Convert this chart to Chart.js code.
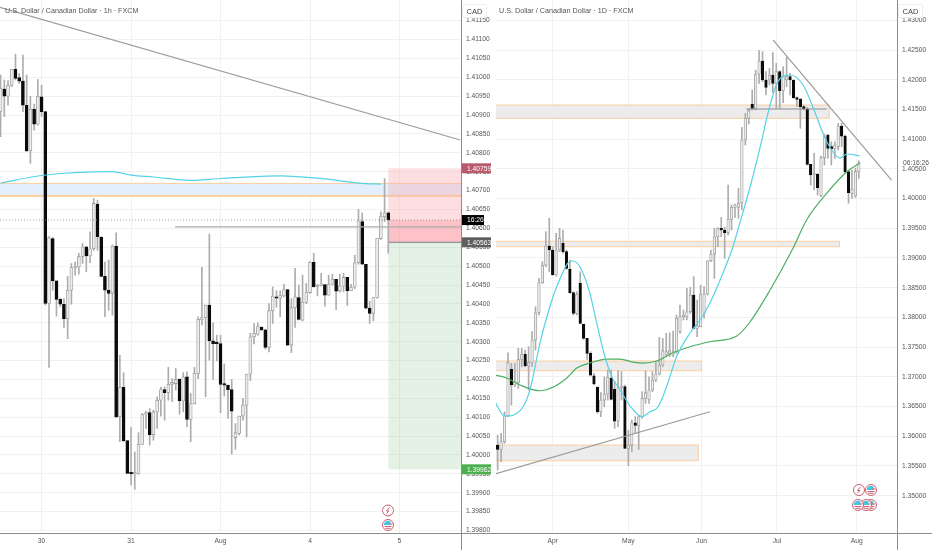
<!DOCTYPE html>
<html>
<head>
<meta charset="utf-8">
<title>USDCAD</title>
<script src="https://cdn.jsdelivr.net/npm/chart.js@4"></script>
<style>
  html, body { margin: 0; padding: 0; background: #fff; overflow: hidden; }
  #page { position: relative; width: 932px; height: 550px; font-family: "Liberation Sans", sans-serif; }
  canvas { position: absolute; top: 0; }
  .title { position: absolute; top: 5.5px; font-size: 7.2px; line-height: 9px; color: #555; white-space: nowrap; }
  .unit { position: absolute; top: 4px; width: 25px; height: 14px; line-height: 14px; text-align: center; font-size: 7.5px;
          color: #444; background: #fff; border: 1px solid #eee; border-radius: 2px; box-sizing: border-box; }
</style>
</head>
<body>
<div id="page">
  <canvas id="hourly" width="496" height="550" style="left:0"></canvas>
  <canvas id="daily" width="436" height="550" style="left:496px"></canvas>
  <div class="title" style="left:5px">U.S. Dollar / Canadian Dollar · 1h · FXCM</div>
  <div class="title" style="left:499px">U.S. Dollar / Canadian Dollar · 1D · FXCM</div>
  <div class="unit" style="left:462px">CAD</div>
  <div class="unit" style="left:898px">CAD</div>
</div>
<script>
// 1h candles, first one is 11 hours before the "30" tick
const hourlyFirst = -11;
const hourlyOpen = [
  1.40909,1.40969,1.40950,1.40979,1.41021,1.40999,1.40990,1.40926,1.40805,1.40915,
  1.40876,1.40948,1.40909,1.40401,1.40573,1.40461,1.40412,1.40399,1.40361,1.40436,
  1.40495,1.40498,1.40525,1.40551,1.40527,1.40546,1.40664,1.40576,1.40473,1.40436,
  1.40428,1.40553,1.40101,1.40179,1.40038,1.39951,1.39950,1.39951,1.40028,1.40108,
  1.40112,1.40054,1.40114,1.40145,1.40173,1.40165,1.40187,1.40189,1.40200,1.40143,
  1.40207,1.40094,1.40136,1.40216,1.40359,1.40364,1.40397,1.40302,1.40297,1.40295,
  1.40187,1.40185,1.40173,1.40046,1.40057,1.40103,1.40132,1.40214,1.40313,1.40320,
  1.40338,1.40331,1.40285,1.40382,1.40419,1.40415,1.40421,1.40438,1.40291,1.40390,
  1.40417,1.40357,1.40404,1.40430,1.40510,1.40445,1.40449,1.40451,1.40423,1.40452,
  1.40465,1.40434,1.40447,1.40470,1.40435,1.40444,1.40509,1.40618,1.40505,1.40389,
  1.40375,1.40417,1.40573,1.40631,1.40641];
const hourlyHigh = [
  1.41006,1.40993,1.40991,1.41021,1.41061,1.41010,1.41059,1.41006,1.40950,1.40929,
  1.40994,1.40979,1.40909,1.40578,1.40576,1.40461,1.40414,1.40414,1.40473,1.40507,
  1.40511,1.40534,1.40560,1.40551,1.40591,1.40679,1.40675,1.40578,1.40511,1.40516,
  1.40556,1.40588,1.40264,1.40218,1.40038,1.40073,1.40008,1.40059,1.40110,1.40116,
  1.40123,1.40119,1.40154,1.40180,1.40180,1.40232,1.40202,1.40229,1.40202,1.40218,
  1.40220,1.40163,1.40232,1.40366,1.40497,1.40397,1.40585,1.40350,1.40317,1.40317,
  1.40241,1.40185,1.40200,1.40083,1.40103,1.40150,1.40214,1.40322,1.40348,1.40350,
  1.40340,1.40333,1.40401,1.40445,1.40435,1.40435,1.40452,1.40438,1.40414,1.40494,
  1.40450,1.40476,1.40454,1.40512,1.40534,1.40452,1.40481,1.40451,1.40476,1.40479,
  1.40465,1.40479,1.40481,1.40470,1.40452,1.40529,1.40650,1.40641,1.40505,1.40407,
  1.40417,1.40573,1.40644,1.40732,1.40644];
const hourlyLow = [
  1.40843,1.40896,1.40926,1.40975,1.40993,1.40984,1.40909,1.40803,1.40772,1.40860,
  1.40873,1.40896,1.40397,1.40232,1.40436,1.40368,1.40392,1.40338,1.40308,1.40399,
  1.40476,1.40479,1.40507,1.40485,1.40509,1.40542,1.40542,1.40472,1.40366,1.40383,
  1.40370,1.40098,1.40035,1.40035,1.39950,1.39920,1.39909,1.39949,1.40028,1.40070,
  1.40026,1.40039,1.40070,1.40103,1.40092,1.40145,1.40141,1.40172,1.40108,1.40114,
  1.40075,1.40035,1.40135,1.40202,1.40344,1.40154,1.40251,1.40200,1.40249,1.40112,
  1.40156,1.40097,1.40002,1.40015,1.40053,1.40092,1.40048,1.40197,1.40294,1.40317,
  1.40329,1.40280,1.40273,1.40348,1.40391,1.40366,1.40419,1.40289,1.40271,1.40338,
  1.40357,1.40355,1.40401,1.40428,1.40445,1.40421,1.40447,1.40394,1.40423,1.40450,
  1.40385,1.40432,1.40432,1.40396,1.40435,1.40440,1.40505,1.40504,1.40387,1.40348,
  1.40355,1.40415,1.40571,1.40618,1.40534];
const hourlyClose = [
  1.40971,1.40950,1.40979,1.41021,1.40997,1.40990,1.40926,1.40805,1.40915,1.40876,
  1.40950,1.40909,1.40401,1.40575,1.40461,1.40412,1.40399,1.40361,1.40436,1.40496,
  1.40498,1.40525,1.40551,1.40527,1.40546,1.40666,1.40578,1.40473,1.40436,1.40428,
  1.40553,1.40101,1.40179,1.40038,1.39951,1.39950,1.39951,1.40028,1.40107,1.40112,
  1.40054,1.40114,1.40145,1.40173,1.40165,1.40187,1.40192,1.40200,1.40143,1.40207,
  1.40094,1.40136,1.40216,1.40359,1.40364,1.40397,1.40302,1.40295,1.40295,1.40187,
  1.40185,1.40173,1.40116,1.40059,1.40103,1.40132,1.40214,1.40313,1.40322,1.40340,
  1.40331,1.40285,1.40382,1.40421,1.40415,1.40422,1.40438,1.40291,1.40390,1.40419,
  1.40359,1.40404,1.40430,1.40510,1.40445,1.40449,1.40451,1.40423,1.40452,1.40465,
  1.40434,1.40447,1.40470,1.40435,1.40444,1.40509,1.40620,1.40505,1.40389,1.40375,
  1.40417,1.40573,1.40631,1.40641,1.40622];

const hourlyTickValues = [0, 24, 48, 72, 96];
const hourlyTickLabels = ['30', '31', 'Aug', '4', '5'];
const hourlyPriceTicks = [1.4115,1.411,1.4105,1.41,1.4095,1.409,1.4085,1.408,1.4075,1.407,1.4065,1.406,1.4055,1.405,1.4045,1.404,1.4035,1.403,1.4025,1.402,1.4015,1.401,1.4005,1.4,1.3995,1.399,1.3985,1.398];

const hourlyAvgX = [-11, 0, 18.7, 24, 30, 40, 48, 64, 76, 86, 91];
const hourlyAvgY = [1.40720, 1.40740, 1.40750, 1.40741, 1.40736, 1.40727, 1.40732, 1.40739, 1.40731, 1.40719, 1.40717];
const hourlyTrendX = [-11.2, 112.3];
const hourlyTrendY = [1.41185, 1.40834];
const hourlyLevelStart = 35.8;
const hourlyLevel = 1.40604;
const hourlyZone = [1.40719, 1.40686];
const lastPrice = 1.40622;
const lastTime = '16:26';
// long/short tool
const toolStart = 93;
const toolStop = 1.40759;
const toolEntry = 1.40563;
const toolTarget = 1.39962;

// daily candles, first one is 16 sessions before the "Apr" tick
const dailyFirst = -16;
const dailyOpen = [
  1.35852,1.35779,1.35908,1.36340,1.37126,1.36862,1.36901,1.37294,1.37378,1.37182,
  1.37238,1.37619,1.38079,1.38584,1.38881,1.39201,1.39134,1.38713,1.39134,1.39246,
  1.39106,1.38814,1.38416,1.38068,1.38573,1.37889,1.37647,1.37395,1.37019,1.36823,
  1.36413,1.36609,1.36711,1.36974,1.36789,1.36256,1.36823,1.36834,1.35796,1.35852,
  1.36228,1.36183,1.36329,1.36637,1.36621,1.36778,1.36946,1.37047,1.37199,1.37367,
  1.37395,1.37367,1.37423,1.37760,1.38012,1.38012,1.38096,1.38377,1.37816,1.37844,
  1.38068,1.38394,1.38954,1.39066,1.39358,1.39499,1.39471,1.39426,1.39650,1.39852,
  1.39852,1.39931,1.40985,1.41350,1.41591,1.41518,1.42096,1.42315,1.41995,1.41995,
  1.42079,1.41939,1.42135,1.41816,1.41995,1.42051,1.41995,1.41698,1.41669,1.41546,
  1.41507,1.40576,1.40396,1.40407,1.40048,1.40688,1.41069,1.40873,1.40845,1.40873,
  1.41221,1.41052,1.40452,1.40088,1.40043,1.40452];
const dailyHigh = [
  1.36020,1.36048,1.36413,1.37406,1.37227,1.37227,1.37479,1.37479,1.37451,1.37507,
  1.37760,1.38180,1.38657,1.38938,1.39443,1.39667,1.39190,1.39414,1.39499,1.39471,
  1.39134,1.38966,1.38433,1.38433,1.38769,1.37889,1.37647,1.37423,1.37058,1.36834,
  1.36733,1.37002,1.37114,1.37114,1.36918,1.37103,1.37086,1.36862,1.36104,1.36273,
  1.36329,1.36357,1.36750,1.37098,1.37002,1.37086,1.37255,1.37664,1.37647,1.37732,
  1.37743,1.37771,1.38040,1.38208,1.38124,1.38489,1.38506,1.38685,1.38293,1.38545,
  1.38517,1.38954,1.39134,1.39499,1.39510,1.39684,1.39516,1.40228,1.39891,1.39908,
  1.40172,1.41198,1.41434,1.41513,1.41827,1.42163,1.42489,1.42472,1.42135,1.42191,
  1.42455,1.42276,1.42152,1.42219,1.42377,1.42107,1.41995,1.41714,1.41686,1.41574,
  1.41535,1.40576,1.40761,1.40424,1.40716,1.41086,1.41081,1.40957,1.40957,1.41266,
  1.41266,1.41069,1.40452,1.40480,1.40508,1.40637];
const dailyLow = [
  1.35431,1.35572,1.35880,1.36329,1.36525,1.36834,1.36806,1.37170,1.37170,1.36778,
  1.37170,1.37451,1.38040,1.38573,1.38853,1.38769,1.38713,1.38696,1.39106,1.39078,
  1.38809,1.38405,1.38040,1.38040,1.37889,1.37630,1.37294,1.37013,1.36862,1.36385,
  1.36329,1.36497,1.36609,1.36609,1.36133,1.36161,1.36609,1.35790,1.35504,1.35740,
  1.36048,1.35779,1.36301,1.36553,1.36553,1.36750,1.36918,1.37030,1.37170,1.37339,
  1.37339,1.37339,1.37395,1.37732,1.37956,1.37956,1.38068,1.37805,1.37676,1.37844,
  1.37984,1.38377,1.38938,1.38657,1.39190,1.39358,1.38994,1.39386,1.39471,1.39684,
  1.39667,1.39807,1.40901,1.41255,1.41490,1.41490,1.41939,1.41967,1.41743,1.41911,
  1.41782,1.41518,1.41518,1.41613,1.41883,1.41743,1.41686,1.41546,1.41182,1.41490,
  1.40564,1.40228,1.40144,1.40060,1.40032,1.40564,1.40677,1.40564,1.40677,1.40817,
  1.40873,1.40435,1.39920,1.40004,1.40020,1.40340];
const dailyClose = [
  1.35779,1.35908,1.36340,1.37238,1.36862,1.36918,1.37294,1.37378,1.37182,1.37238,
  1.37619,1.38079,1.38584,1.38881,1.39201,1.39134,1.38713,1.39134,1.39330,1.39106,
  1.38825,1.38416,1.38068,1.38388,1.37900,1.37647,1.37395,1.37030,1.36879,1.36413,
  1.36609,1.36711,1.36991,1.36621,1.36256,1.36823,1.36834,1.35796,1.35852,1.36228,
  1.36183,1.36329,1.36637,1.36733,1.36778,1.36946,1.37047,1.37199,1.37440,1.37423,
  1.37440,1.37423,1.37984,1.38012,1.38040,1.38096,1.38377,1.37816,1.37861,1.38394,
  1.38394,1.38954,1.39066,1.39358,1.39499,1.39471,1.39426,1.39650,1.39852,1.39891,
  1.39919,1.40985,1.41350,1.41479,1.41518,1.42096,1.42315,1.41995,1.41872,1.42079,
  1.41939,1.42135,1.41816,1.42051,1.42051,1.41995,1.41698,1.41669,1.41546,1.41507,
  1.40576,1.40396,1.40424,1.40183,1.40688,1.41041,1.40845,1.40834,1.40901,1.41221,
  1.41052,1.40452,1.40099,1.40155,1.40452,1.40603];

const dailyTickValues = [0, 22, 43.25, 65.2, 88.4];
const dailyTickLabels = ['Apr', 'May', 'Jun', 'Jul', 'Aug'];
const dailyPriceTicks = [1.43,1.425,1.42,1.415,1.41,1.405,1.4,1.395,1.39,1.385,1.38,1.375,1.37,1.365,1.36,1.355,1.35];

const dailyFastX = [-16.8,-14.4,-13,-10.5,-8.6,-6.6,-3.7,0.1,2.6,4.4,5.9,7.9,10.8,12.8,15.2,17.2,19.6,22.5,25.9,28.3,30.6,33.1,36,39.9,42.8,45.7,51,52.4,54.4,57.4,60.8,62.6,65.5,69,72.8,76.3,78.9,81.1,83.5,85.5,89.3];
const dailyFastY = [1.36581,1.36357,1.36340,1.36385,1.36497,1.36778,1.37569,1.38348,1.38713,1.38915,1.38949,1.38853,1.38410,1.37905,1.37338,1.37002,1.36778,1.36509,1.36329,1.36413,1.36492,1.36833,1.37338,1.37737,1.37956,1.38242,1.38966,1.39190,1.39588,1.40199,1.40985,1.41440,1.41967,1.42079,1.41911,1.41440,1.41052,1.40817,1.40682,1.40750,1.40716];
const dailySlowX = [-16.8,-13.4,-9.5,-3.7,0.2,4.1,7,10.8,15.7,19.6,23.3,26.3,30.2,35,39.9,45.7,53.5,57.4,63.2,69.9,73.8,79.7,85.5,89.3];
const dailySlowY = [1.37030,1.36980,1.36862,1.36766,1.36828,1.36980,1.37148,1.37232,1.37299,1.37299,1.37249,1.37232,1.37266,1.37406,1.37506,1.37590,1.37687,1.37927,1.38461,1.39168,1.39639,1.40093,1.40452,1.40598];
const dailyUpperTrendX = [64.1, 98.5];
const dailyUpperTrendY = [1.42668, 1.40312];
const dailyLowerTrendX = [-16.8, 45.7];
const dailyLowerTrendY = [1.35364, 1.36413];
const dailyLevelX = [56.3, 79.7];
const dailyLevel = 1.41507;
// zones: end session, top, bottom
const dailyZoneEnd = [80.4, 83.4, 43.3, 42.3];
const dailyZoneTop = [1.41574, 1.39281, 1.37266, 1.35852];
const dailyZoneBottom = [1.41351, 1.39190, 1.37103, 1.35588];
const dailyClock = '06:16:26';
const dailyClockPrice = 1.40600;

const GRID = '#f1f1f1';
const AXIS = '#8c8c8c';
const TEXT = '#555';
const FONT = 'Liberation Sans';
const WICK = '#adadad';
const ORANGE = '#fbcf9e';
const TICK_SIZE = 6.7;

function candleSets(first, o, h, l, c, bodyWidth) {
  const wicks = o.map((v, i) => ({ x: first + i, y: [l[i], h[i]] }));
  const bodies = o.map((v, i) => ({ x: first + i, y: [v, c[i]] }));
  const down = ctx => c[ctx.dataIndex] < o[ctx.dataIndex];
  return [
    { type: 'bar', data: wicks, backgroundColor: WICK, barThickness: 1, grouped: false, order: 5 },
    { type: 'bar', data: bodies, grouped: false, order: 4, barThickness: bodyWidth, minBarLength: 1.5,
      backgroundColor: ctx => down(ctx) ? '#0b0b0b' : '#ececec',
      borderColor: ctx => down(ctx) ? '#0b0b0b' : '#9c9c9c',
      borderWidth: 0.8, borderSkipped: false }
  ];
}

function lineSet(xs, ys, color, width, extra) {
  return Object.assign({ type: 'line', data: xs.map((x, i) => ({ x: x, y: ys[i] })), borderColor: color, borderWidth: width,
    pointRadius: 0, order: 1, fill: false }, extra || {});
}

function noPadding(axis) {
  axis.paddingTop = 0;
  axis.paddingBottom = 0;
  axis.paddingLeft = 0;
  axis.paddingRight = 0;
}

function paneOptions(xMin, xMax, yMin, yMax, tickValues, tickLabels, priceTicks) {
  return {
    responsive: false,
    animation: false,
    events: [],
    layout: { padding: 0 },
    plugins: { legend: { display: false }, tooltip: { enabled: false } },
    scales: {
      x: {
        type: 'linear', min: xMin, max: xMax, offset: false,
        grid: { color: GRID, drawTicks: false, offset: false },
        border: { display: false },
        afterBuildTicks: axis => { axis.ticks = tickValues.map(v => ({ value: v })); },
        afterFit: axis => { axis.height = 17; noPadding(axis); },
        ticks: { autoSkip: false, maxRotation: 0, padding: 4, color: TEXT, font: { family: FONT, size: TICK_SIZE },
          callback: v => tickLabels[tickValues.indexOf(v)] }
      },
      y: {
        type: 'linear', position: 'right', min: yMin, max: yMax,
        grid: { color: GRID, drawTicks: false },
        border: { display: false },
        afterBuildTicks: axis => { axis.ticks = priceTicks.map(v => ({ value: v })); },
        afterFit: axis => { axis.width = 35; noPadding(axis); },
        ticks: { autoSkip: false, padding: 5, color: TEXT, font: { family: FONT, size: TICK_SIZE },
          callback: v => v.toFixed(5) }
      }
    }
  };
}

function axisLines(chart) {
  const g = chart.ctx, a = chart.chartArea;
  g.save();
  g.strokeStyle = AXIS;
  g.lineWidth = 1;
  g.beginPath();
  g.moveTo(a.right + 0.5, 0);
  g.lineTo(a.right + 0.5, chart.height);
  g.moveTo(0, a.bottom + 0.5);
  g.lineTo(chart.width, a.bottom + 0.5);
  g.stroke();
  g.restore();
}

function priceTag(chart, price, text, bg, width) {
  const g = chart.ctx, x = chart.chartArea.right + 1, y = chart.scales.y.getPixelForValue(price);
  g.save();
  g.fillStyle = bg;
  g.fillRect(x, y - 5, width, 10);
  g.fillStyle = '#fff';
  g.font = TICK_SIZE + 'px "' + FONT + '"';
  g.textBaseline = 'middle';
  g.fillText(text, x + 5, y + 0.5);
  g.restore();
}

function iconRing(g, x, y) {
  g.beginPath();
  g.arc(x, y, 5.5, 0, Math.PI * 2);
  g.fillStyle = '#fff';
  g.fill();
  g.strokeStyle = '#cc5f72';
  g.lineWidth = 1;
  g.stroke();
}

function boltIcon(g, x, y) {
  iconRing(g, x, y);
  g.beginPath();
  g.moveTo(x + 1.5, y - 3);
  g.lineTo(x - 1.5, y + 0.5);
  g.lineTo(x + 1, y + 0.5);
  g.lineTo(x - 1.5, y + 3);
  g.strokeStyle = '#cc5f72';
  g.stroke();
}

function flagIcon(g, x, y) {
  iconRing(g, x, y);
  g.beginPath();
  g.moveTo(x + 1.5, y);
  g.arc(x, y, 4.2, Math.PI, Math.PI * 1.7);
  g.lineTo(x + 2.5, y);
  g.lineTo(x - 4.2, y);
  g.fillStyle = '#45c6e0';
  g.fill();
  g.fillStyle = '#cc5f72';
  g.fillRect(x - 3.5, y + 1, 7, 1);
  g.fillRect(x - 2.5, y + 2.8, 5, 1);
  g.fillRect(x + 1, y - 1.5, 3.5, 1);
}

// rectangle in data units, the pane's scales give the pixels
function zoneRect(chart, x0, x1, top, bottom, fill, edge) {
  const g = chart.ctx, sx = chart.scales.x, sy = chart.scales.y;
  const left = sx.getPixelForValue(x0), right = sx.getPixelForValue(x1);
  const t = sy.getPixelForValue(top), b = sy.getPixelForValue(bottom);
  g.save();
  g.beginPath();
  g.rect(chart.chartArea.left, 0, chart.chartArea.width, chart.chartArea.height);
  g.clip();
  g.fillStyle = fill;
  g.fillRect(left, t, right - left, b - t);
  if (edge) {
    g.strokeStyle = edge;
    g.lineWidth = 1;
    g.strokeRect(left, t, right - left, b - t);
  }
  g.restore();
}

const hourlyMin = -11.15, hourlyMax = 112.5;
const hourlyPlugin = {
  id: 'hourlyMarks',
  beforeDatasetsDraw(chart) {
    zoneRect(chart, hourlyMin - 1, hourlyMax + 1, hourlyZone[0], hourlyZone[1], '#e3effc');
    const g = chart.ctx, sy = chart.scales.y;
    g.save();
    g.fillStyle = ORANGE;
    g.fillRect(0, sy.getPixelForValue(hourlyZone[0]) - 0.5, chart.chartArea.right, 1);
    g.fillRect(0, sy.getPixelForValue(hourlyZone[1]) - 1, chart.chartArea.right, 2);
    g.restore();
    zoneRect(chart, toolStart, hourlyMax, toolStop, toolEntry, 'rgba(250,170,175,0.38)');
    zoneRect(chart, toolStart, hourlyMax, lastPrice, toolEntry, 'rgba(250,150,160,0.4)');
    zoneRect(chart, toolStart, hourlyMax, toolEntry, toolTarget, 'rgba(150,205,155,0.26)');
    zoneRect(chart, toolStart, hourlyMax, toolEntry + 0.00002, toolEntry - 0.00002, '#9a9a9a');
  },
  afterDraw(chart) {
    axisLines(chart);
    priceTag(chart, toolStop, toolStop.toFixed(5), '#b9596c', 29);
    priceTag(chart, toolEntry, toolEntry.toFixed(5), '#5f5f5f', 29);
    priceTag(chart, toolTarget, toolTarget.toFixed(5), '#4caf50', 29);
    priceTag(chart, lastPrice, lastTime, '#000', 22);
    const g = chart.ctx;
    g.save();
    boltIcon(g, 388, 510.5);
    flagIcon(g, 388, 525);
    g.restore();
  }
};

const dailyPlugin = {
  id: 'dailyMarks',
  beforeDatasetsDraw(chart) {
    dailyZoneEnd.forEach((end, i) => {
      zoneRect(chart, dailyFirst - 1, end, dailyZoneTop[i], dailyZoneBottom[i], '#ececec', ORANGE);
    });
  },
  afterDraw(chart) {
    axisLines(chart);
    const g = chart.ctx, x = chart.chartArea.right + 5;
    g.save();
    g.fillStyle = TEXT;
    g.font = TICK_SIZE + 'px "' + FONT + '"';
    g.textBaseline = 'middle';
    g.fillText(dailyClock, x + 1, chart.scales.y.getPixelForValue(dailyClockPrice));
    flagIcon(g, 375, 505);
    flagIcon(g, 370, 505);
    flagIcon(g, 362, 505);
    boltIcon(g, 363, 490);
    flagIcon(g, 375, 490);
    g.restore();
  }
};

new Chart(document.getElementById('hourly'), {
  data: {
    datasets: [
      ...candleSets(hourlyFirst, hourlyOpen, hourlyHigh, hourlyLow, hourlyClose, 3),
      lineSet(hourlyAvgX, hourlyAvgY, '#55d3e6', 1.2, { cubicInterpolationMode: 'monotone' }),
      lineSet(hourlyTrendX, hourlyTrendY, '#9a9a9a', 1.2),
      lineSet([hourlyLevelStart, hourlyMax], [hourlyLevel, hourlyLevel], '#adadad', 1.4),
      lineSet([hourlyMin, hourlyMax], [lastPrice, lastPrice], '#8c8c8c', 0.8, { borderDash: [1, 2] })
    ]
  },
  options: paneOptions(hourlyMin, hourlyMax, 1.397934, 1.412046, hourlyTickValues, hourlyTickLabels, hourlyPriceTicks),
  plugins: [hourlyPlugin]
});

new Chart(document.getElementById('daily'), {
  data: {
    datasets: [
      ...candleSets(dailyFirst, dailyOpen, dailyHigh, dailyLow, dailyClose, 2.6),
      lineSet(dailyFastX, dailyFastY, '#55d3e6', 1.2, { cubicInterpolationMode: 'monotone' }),
      lineSet(dailySlowX, dailySlowY, '#4caf62', 1.2, { cubicInterpolationMode: 'monotone' }),
      lineSet(dailyUpperTrendX, dailyUpperTrendY, '#9a9a9a', 1.2),
      lineSet(dailyLowerTrendX, dailyLowerTrendY, '#9a9a9a', 1.2),
      lineSet(dailyLevelX, [dailyLevel, dailyLevel], '#8c8c8c', 1)
    ]
  },
  options: paneOptions(-16.48, 100.09, 1.34372, 1.433415, dailyTickValues, dailyTickLabels, dailyPriceTicks),
  plugins: [dailyPlugin]
});
</script>
</body>
</html>
